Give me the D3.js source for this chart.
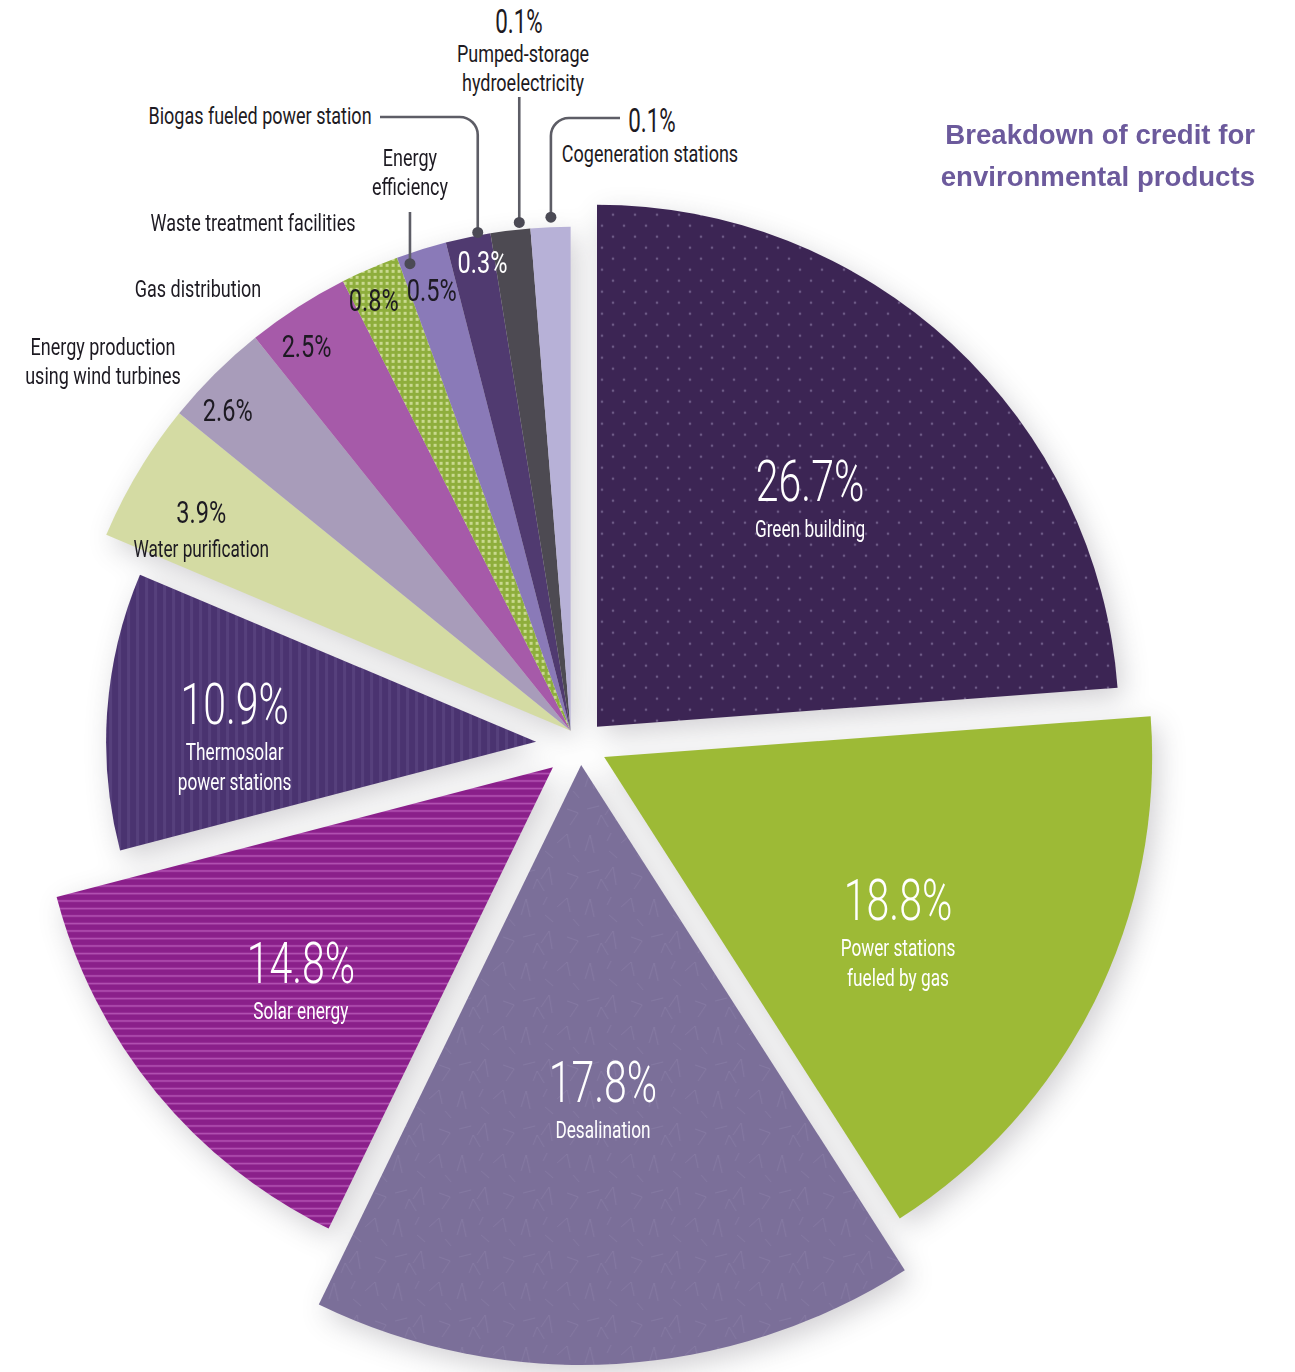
<!DOCTYPE html>
<html>
<head>
<meta charset="utf-8">
<script src="https://cdn.jsdelivr.net/npm/d3@7"></script>
<style>
  html, body { margin: 0; padding: 0; background: #ffffff; }
  svg { display: block; }
</style>
</head>
<body>
<svg id="chart" width="1295" height="1372"></svg>
<script>
// ---- data ----------------------------------------------------------------
const categories = [
  "Green building",
  "Power stations fueled by gas",
  "Desalination",
  "Solar energy",
  "Thermosolar power stations",
  "Water purification",
  "Energy production using wind turbines",
  "Gas distribution",
  "Waste treatment facilities",
  "Energy efficiency",
  "Biogas fueled power station",
  "Pumped-storage hydroelectricity",
  "Cogeneration stations"
];
const shares = [26.7, 18.8, 17.8, 14.8, 10.9, 3.9, 2.6, 2.5, 0.8, 0.5, 0.3, 0.1, 0.1];
const shareLabels = ["26.7%", "18.8%", "17.8%", "14.8%", "10.9%", "3.9%", "2.6%", "2.5%", "0.8%", "0.5%", "0.3%", "0.1%", "0.1%"];
const nameLines = [
  ["Green building"],
  ["Power stations", "fueled by gas"],
  ["Desalination"],
  ["Solar energy"],
  ["Thermosolar", "power stations"],
  ["Water purification"],
  ["Energy production", "using wind turbines"],
  ["Gas distribution"],
  ["Waste treatment facilities"],
  ["Energy", "efficiency"],
  ["Biogas fueled power station"],
  ["Pumped-storage", "hydroelectricity"],
  ["Cogeneration stations"]
];
const titleLines = ["Breakdown of credit for", "environmental products"];

// ---- layout & styling ------------------------------------------------------
const CX = 580, CY = 745;          // pie centre
const MIN_WEIGHT = 1.4;            // angular floor so the tiny shares stay visible
const MINOR_FROM = 5;              // slices from here on are exploded together
const COND = "Roboto, 'Liberation Sans', sans-serif";
const SX_BIG = 0.72, SX_PCT = 0.76, SX_NAME = 0.75;   // horizontal squeeze for condensed type

// per slice: fill, explode distance, outer radius, label polar position (deg, r)
const looks = [
  { fill: "url(#pDots)",    explode: 25, r: 522, lab: [43.4, 310],  ink: "#ffffff", mode: "big" },
  { fill: "#9dba36",        explode: 27, r: 548, lab: [119, 336],   ink: "#ffffff", mode: "big" },
  { fill: "url(#pScrib)",   explode: 20, r: 600, lab: [176.3, 338], ink: "#ffffff", mode: "big" },
  { fill: "url(#pHStripe)", explode: 35, r: 513, lab: [229.4, 332], ink: "#ffffff", mode: "big" },
  { fill: "url(#pVStripe)", explode: 44, r: 430, lab: [273.4, 302], ink: "#ffffff", mode: "big" },
  { fill: "#d4dba3",        r: 504, lab: [299.4, 424], ink: "#1d1a22", mode: "small2" },
  { fill: "#a89cba",        r: 504, lab: [312.1, 462], ink: "#1d1a22", mode: "small" },
  { fill: "#a65aa9",        r: 504, lab: [324.8, 458], ink: "#1d1a22", mode: "small" },
  { fill: "url(#pCheck)",   r: 504, lab: [334.9, 464], ink: "#1d1a22", mode: "small" },
  { fill: "#8a7ab8",        r: 504, lab: [342.1, 452], ink: "#1d1a22", mode: "small" },
  { fill: "#503a70",        r: 504, lab: [349.1, 466], ink: "#ffffff", mode: "small" },
  { fill: "#4d4a52",        r: 504, ink: "#1d1a22", mode: "none" },
  { fill: "#b7b1d7",        r: 504, ink: "#1d1a22", mode: "none" }
];

// names written outside the pie (text anchor = first baseline, centred)
const outsideNames = [
  { i: 6,  x: 103, y: 355 },
  { i: 7,  x: 198, y: 297 },
  { i: 8,  x: 253, y: 231 },
  { i: 9,  x: 410, y: 166, leader: { t: 0.2, dr: -10, topY: 212 } },
  { i: 10, x: 260, y: 124, leader: { t: 0.73, dr: 3, elbowY: 117, toX: 380, turn: "left" } },
  { i: 11, x: 523, y: 62,  pct: { x: 519, y: 33 }, leader: { t: 0.74, dr: 7, topY: 97 } },
  { i: 12, x: 650, y: 162, pct: { x: 652, y: 132 }, leader: { t: 0.52, dr: 10, elbowY: 118, toX: 620, turn: "right" } }
];

// ---- drawing ---------------------------------------------------------------
const svg = d3.select("#chart");
const defs = svg.append("defs");

// soft drop shadow
const blur = defs.append("filter").attr("id", "soft").attr("x", "-30%").attr("y", "-30%").attr("width", "160%").attr("height", "160%");
blur.append("feGaussianBlur").attr("stdDeviation", 14);

// dotted dark purple
const pDots = defs.append("pattern").attr("id", "pDots").attr("patternUnits", "userSpaceOnUse").attr("width", 22).attr("height", 22);
pDots.append("rect").attr("width", 22).attr("height", 22).attr("fill", "#3c2554");
pDots.append("circle").attr("cx", 5).attr("cy", 5).attr("r", 1.3).attr("fill", "#6d5a86");
pDots.append("circle").attr("cx", 16).attr("cy", 16).attr("r", 1.3).attr("fill", "#6d5a86");

// horizontal stripes (magenta)
const pH = defs.append("pattern").attr("id", "pHStripe").attr("patternUnits", "userSpaceOnUse").attr("width", 10).attr("height", 7.5);
pH.append("rect").attr("width", 10).attr("height", 7.5).attr("fill", "#8a1f8a");
pH.append("rect").attr("y", 5.5).attr("width", 10).attr("height", 1.6).attr("fill", "#b454b4");

// vertical stripes (dark purple)
const pV = defs.append("pattern").attr("id", "pVStripe").attr("patternUnits", "userSpaceOnUse").attr("width", 9).attr("height", 10);
pV.append("rect").attr("width", 9).attr("height", 10).attr("fill", "#4a3370");
pV.append("rect").attr("x", 5).attr("width", 3).attr("height", 10).attr("fill", "#56407c");

// checks (green)
const pC = defs.append("pattern").attr("id", "pCheck").attr("patternUnits", "userSpaceOnUse").attr("width", 6).attr("height", 6);
pC.append("rect").attr("width", 6).attr("height", 6).attr("fill", "#8eae3c");
pC.append("rect").attr("x", 1).attr("y", 1).attr("width", 3).attr("height", 3).attr("fill", "#c9d98f");

// scribbled thin lines (grey purple)
const pS = defs.append("pattern").attr("id", "pScrib").attr("patternUnits", "userSpaceOnUse").attr("width", 64).attr("height", 64);
pS.append("rect").attr("width", 64).attr("height", 64).attr("fill", "#7b6f99");
pS.append("path")
  .attr("d", "M4 22 L9 6 L13 24 M24 50 L32 38 L35 56 M40 14 L50 5 L53 19 M50 44 L61 48 L53 60 M6 44 L18 41 M28 22 L36 29 M16 60 L20 50 L27 62 M56 26 L62 33 M30 4 L26 12")
  .attr("fill", "none").attr("stroke", "#9186ae").attr("stroke-width", 0.9).attr("opacity", 0.5);

// pie layout
const pie = d3.pie().sort(null).value(d => d.share + MIN_WEIGHT);
const rows = categories.map((c, i) => ({ name: c, share: shares[i], i }));
const arcs = pie(rows);

const minorMid = (arcs[MINOR_FROM].startAngle + arcs[arcs.length - 1].endAngle) / 2;
const MINOR_EXPLODE = 17;

function polar(a, r) { return [Math.sin(a) * r, -Math.cos(a) * r]; }
function apexOf(i) {
  if (i >= MINOR_FROM) {
    const [dx, dy] = polar(minorMid, MINOR_EXPLODE);
    return [CX + dx, CY + dy];
  }
  const a = arcs[i];
  const [dx, dy] = polar((a.startAngle + a.endAngle) / 2, looks[i].explode);
  return [CX + dx, CY + dy];
}

const arcGen = d3.arc().innerRadius(0).outerRadius(d => looks[d.data.i].r);

// shadow
svg.append("g").attr("filter", "url(#soft)").attr("opacity", 0.28)
  .selectAll("path").data(arcs).join("path")
  .attr("transform", d => { const [x, y] = apexOf(d.data.i); return `translate(${x + 6},${y + 9})`; })
  .attr("d", arcGen)
  .attr("fill", "#5a5560");

// slices
svg.append("g").selectAll("path").data(arcs).join("path")
  .attr("transform", d => { const [x, y] = apexOf(d.data.i); return `translate(${x},${y})`; })
  .attr("d", arcGen)
  .attr("fill", d => looks[d.data.i].fill);

// text helper (condensed by horizontal squeeze)
function txt(g, x, y, s, size, color, weight, sx) {
  g.append("text")
    .attr("transform", `translate(${x},${y}) scale(${sx},1)`)
    .attr("text-anchor", "middle")
    .attr("font-family", COND)
    .attr("font-size", size)
    .attr("font-weight", weight || 400)
    .attr("fill", color)
    .text(s);
}

const labels = svg.append("g");
arcs.forEach((a, i) => {
  const lk = looks[i];
  if (lk.mode === "none") return;
  const [ax, ay] = apexOf(i);
  const [dx, dy] = polar(lk.lab[0] * Math.PI / 180, lk.lab[1]);
  const x = ax + dx, y = ay + dy;
  if (lk.mode === "big") {
    txt(labels, x, y, shareLabels[i], 57, lk.ink, 300, SX_BIG);
    nameLines[i].forEach((ln, k) => txt(labels, x, y + 36 + k * 30, ln, 23, lk.ink, 400, SX_NAME));
  } else if (lk.mode === "small2") {
    txt(labels, x, y, shareLabels[i], 31, lk.ink, 400, SX_PCT);
    nameLines[i].forEach((ln, k) => txt(labels, x, y + 34 + k * 30, ln, 23, lk.ink, 400, SX_NAME));
  } else {
    txt(labels, x, y, shareLabels[i], 31, lk.ink, 400, SX_PCT);
  }
});

// outside names, callout lines and dots
const callouts = svg.append("g");
outsideNames.forEach(o => {
  nameLines[o.i].forEach((ln, k) => txt(callouts, o.x, o.y + k * 29, ln, 24, "#1d1a22", 400, SX_NAME));
  if (o.pct) txt(callouts, o.pct.x, o.pct.y, shareLabels[o.i], 33, "#1d1a22", 400, 0.68);
  if (!o.leader) return;
  const a = arcs[o.i], L = o.leader;
  const ang = a.startAngle + (a.endAngle - a.startAngle) * L.t;
  const [ax, ay] = apexOf(o.i);
  const [dx, dy] = polar(ang, looks[o.i].r + L.dr);
  const px = ax + dx, py = ay + dy;
  let d;
  if (L.topY !== undefined) {
    d = `M${px},${py} V${L.topY}`;
  } else {
    const rr = 18;
    const sx = L.turn === "left" ? -1 : 1;
    d = `M${px},${py} V${L.elbowY + rr} A${rr},${rr} 0 0 ${L.turn === "left" ? 0 : 1} ${px + sx * rr},${L.elbowY} H${L.toX}`;
  }
  callouts.append("path").attr("d", d).attr("fill", "none").attr("stroke", "#5d5d66").attr("stroke-width", 2.6);
  callouts.append("circle").attr("cx", px).attr("cy", py).attr("r", 5.5).attr("fill", "#4b4a55");
});

// title
const title = svg.append("g");
titleLines.forEach((ln, k) => {
  title.append("text")
    .attr("x", 1255).attr("y", 144 + k * 42)
    .attr("text-anchor", "end")
    .attr("font-family", "'Liberation Sans', Arial, sans-serif")
    .attr("font-weight", 700)
    .attr("font-size", 27.6)
    .attr("fill", "#6c5a9c")
    .text(ln);
});
</script>
</body>
</html>
